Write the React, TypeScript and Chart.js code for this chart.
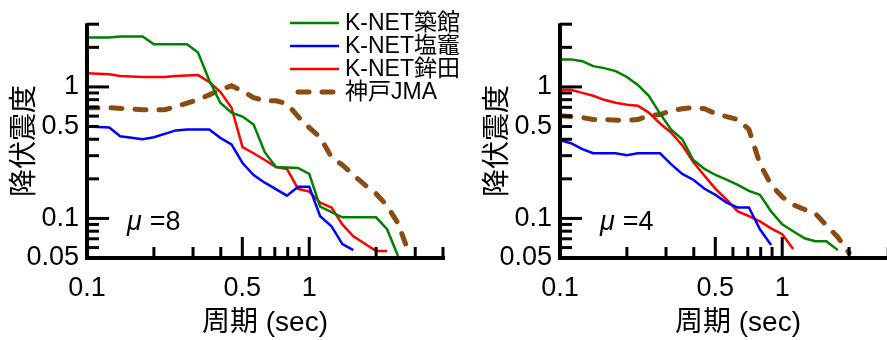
import { useEffect, useRef } from 'react';
import { Chart, registerables } from 'chart.js';

Chart.register(...registerables);

const FONT = "'Liberation Sans', Arial, 'Noto Sans CJK JP', sans-serif";

const SERIES_LABELS = ['K-NET築館', 'K-NET塩竈', 'K-NET鉾田', '神戸JMA'];
const SERIES_COLORS = ['#008000', '#0000ff', '#ff0000', '#8b4c14'];

// ---- μ = 8 panel ----
const tsukidateX8 = [0.1, 0.126, 0.141, 0.178, 0.2, 0.282, 0.316, 0.355, 0.398, 0.447, 0.501, 0.562, 0.631, 0.708, 0.891, 1.0, 1.12, 1.41, 2.0, 2.24, 2.51];
const tsukidateY8 = [2.38, 2.38, 2.42, 2.42, 2.11, 2.11, 1.83, 1.12, 0.758, 0.638, 0.595, 0.518, 0.319, 0.246, 0.242, 0.218, 0.123, 0.102, 0.102, 0.0827, 0.0518];
const shiogamaX8 = [0.1, 0.126, 0.141, 0.178, 0.2, 0.251, 0.282, 0.355, 0.398, 0.447, 0.501, 0.562, 0.631, 0.794, 0.891, 1.0, 1.12, 1.26, 1.41, 1.58];
const shiogamaY8 = [0.5, 0.492, 0.421, 0.4, 0.414, 0.467, 0.475, 0.475, 0.41, 0.366, 0.264, 0.214, 0.187, 0.149, 0.174, 0.174, 0.104, 0.087, 0.0638, 0.0574];
const hokotaX8 = [0.1, 0.126, 0.141, 0.178, 0.224, 0.251, 0.316, 0.355, 0.398, 0.447, 0.501, 0.562, 0.631, 0.708, 0.794, 0.891, 1.0, 1.12, 1.26, 1.41, 1.58, 2.0, 2.24];
const hokotaY8 = [1.27, 1.25, 1.21, 1.19, 1.19, 1.21, 1.23, 1.09, 0.917, 0.695, 0.348, 0.313, 0.278, 0.246, 0.238, 0.168, 0.16, 0.132, 0.121, 0.0901, 0.0732, 0.0565, 0.0565];
const kobeX8 = [0.1, 0.126, 0.178, 0.224, 0.251, 0.316, 0.355, 0.398, 0.447, 0.501, 0.562, 0.631, 0.708, 0.794, 0.891, 1.0, 1.12, 1.26, 1.41, 1.58, 1.78, 2.0, 2.24, 2.51, 2.82];
const kobeY8 = [0.695, 0.695, 0.672, 0.672, 0.707, 0.8, 0.87, 0.95, 1.02, 0.933, 0.83, 0.785, 0.785, 0.745, 0.595, 0.49, 0.414, 0.292, 0.255, 0.214, 0.18, 0.154, 0.125, 0.0917, 0.0537];

// ---- μ = 4 panel ----
const tsukidateX4 = [0.1, 0.112, 0.126, 0.141, 0.158, 0.178, 0.2, 0.224, 0.251, 0.282, 0.316, 0.355, 0.398, 0.447, 0.501, 0.562, 0.631, 0.708, 0.794, 0.891, 1.0, 1.12, 1.26, 1.41, 1.58, 1.78];
const tsukidateY4 = [1.62, 1.62, 1.57, 1.44, 1.39, 1.32, 1.19, 1.035, 0.856, 0.627, 0.475, 0.4, 0.278, 0.238, 0.214, 0.197, 0.18, 0.162, 0.151, 0.113, 0.0901, 0.0798, 0.0707, 0.0671, 0.0671, 0.0574];
const shiogamaX4 = [0.1, 0.112, 0.126, 0.141, 0.178, 0.2, 0.224, 0.282, 0.316, 0.355, 0.398, 0.447, 0.501, 0.562, 0.631, 0.708, 0.794, 0.891];
const shiogamaY4 = [0.393, 0.373, 0.336, 0.313, 0.313, 0.303, 0.313, 0.313, 0.259, 0.218, 0.197, 0.168, 0.151, 0.132, 0.121, 0.121, 0.0827, 0.0627];
const hokotaX4 = [0.1, 0.112, 0.126, 0.141, 0.158, 0.178, 0.2, 0.224, 0.251, 0.282, 0.316, 0.355, 0.398, 0.447, 0.501, 0.562, 0.631, 0.708, 0.794, 0.891, 1.0, 1.12];
const hokotaY4 = [0.95, 0.95, 0.901, 0.856, 0.798, 0.758, 0.732, 0.72, 0.638, 0.527, 0.451, 0.36, 0.268, 0.211, 0.168, 0.139, 0.113, 0.104, 0.0949, 0.0841, 0.0758, 0.0585];
const kobeX4 = [0.1, 0.112, 0.126, 0.141, 0.158, 0.2, 0.224, 0.251, 0.282, 0.316, 0.355, 0.398, 0.447, 0.501, 0.562, 0.631, 0.708, 0.794, 0.891, 1.0, 1.12, 1.26, 1.41, 1.58, 1.78, 2.0];
const kobeY4 = [0.605, 0.595, 0.585, 0.565, 0.565, 0.555, 0.565, 0.605, 0.616, 0.66, 0.683, 0.695, 0.683, 0.627, 0.595, 0.565, 0.475, 0.26, 0.18, 0.146, 0.127, 0.117, 0.109, 0.0886, 0.072, 0.0546];

// ---- axes ----
const X_MIN = 0.1;
const X_MAX = 4;
const Y_MIN = 0.05;
const Y_MAX = 3;
const X_LABELS = [0.1, 0.5, 1];
const Y_LABELS = [0.05, 0.1, 0.5, 1];
const X_MAJOR_TICKS = [0.5, 1];
const X_MINOR_TICKS = [0.2, 0.3, 0.4, 0.6, 0.7, 0.8, 0.9, 2, 3, 4];
const Y_MAJOR_TICKS = [0.1, 1];
const Y_MINOR_TICKS = [0.06, 0.07, 0.08, 0.09, 0.2, 0.3, 0.4, 0.5, 0.6, 0.7, 0.8, 0.9, 2, 3];

const X_TITLE = '周期 (sec)';
const Y_TITLE = '降伏震度';

const CANVAS_W = 473;
const CANVAS_H = 340;

const axesPlugin = {
  id: 'customAxes',
  afterDatasetsDraw(chart: any, _args: any, opts: any) {
    const { ctx, chartArea: ca, scales } = chart;
    const xs = scales.x;
    const ys = scales.y;
    ctx.save();
    ctx.strokeStyle = '#000';
    ctx.lineCap = 'butt';
    ctx.lineWidth = 3;
    const seg = (x1: number, y1: number, x2: number, y2: number) => {
      ctx.beginPath();
      ctx.moveTo(x1, y1);
      ctx.lineTo(x2, y2);
      ctx.stroke();
    };
    for (const v of X_MINOR_TICKS) {
      const p = xs.getPixelForValue(v);
      seg(p, ca.bottom, p, ca.bottom - 11);
    }
    for (const v of X_MAJOR_TICKS) {
      const p = xs.getPixelForValue(v);
      seg(p, ca.bottom, p, ca.bottom - 21);
    }
    for (const v of Y_MINOR_TICKS) {
      const p = ys.getPixelForValue(v);
      seg(ca.left, p, ca.left + 12, p);
    }
    for (const v of Y_MAJOR_TICKS) {
      const p = ys.getPixelForValue(v);
      seg(ca.left, p, ca.left + 22, p);
    }
    ctx.lineWidth = 4;
    ctx.beginPath();
    ctx.moveTo(ca.left, ca.top - 1);
    ctx.lineTo(ca.left, ca.bottom);
    ctx.lineTo(ca.right + 2, ca.bottom);
    ctx.stroke();

    // ductility label
    ctx.fillStyle = '#000';
    ctx.textBaseline = 'alphabetic';
    ctx.textAlign = 'left';
    ctx.font = `italic 27px ${FONT}`;
    const mx = ca.left + 40;
    const my = 230;
    ctx.fillText('μ', mx, my);
    const mw = ctx.measureText('μ').width;
    ctx.font = `27px ${FONT}`;
    ctx.fillText(opts.muText, mx + mw + 8, my);

    if (opts.legend) {
      const ds = chart.data.datasets;
      ctx.font = `23px ${FONT}`;
      ctx.textBaseline = 'middle';
      ds.forEach((d: any, i: number) => {
        const y = 23 + i * 23;
        ctx.save();
        ctx.strokeStyle = d.borderColor;
        ctx.lineWidth = d.borderWidth;
        ctx.lineCap = d.borderDash ? 'round' : 'butt';
        ctx.setLineDash(d.borderDash || []);
        ctx.beginPath();
        ctx.moveTo(d.borderDash ? 298 : 290, y);
        ctx.lineTo(339, y);
        ctx.stroke();
        ctx.restore();
        ctx.fillStyle = '#000';
        ctx.fillText(d.label, 345, y + 1);
      });
    }
    ctx.restore();
  },
};

function makeDataset(i: number, xsv: number[], ysv: number[]) {
  const dashed = i === 3;
  return {
    label: SERIES_LABELS[i],
    data: xsv.map((x, k) => ({ x, y: ysv[k] })),
    borderColor: SERIES_COLORS[i],
    backgroundColor: SERIES_COLORS[i],
    borderWidth: dashed ? 5 : 2.5,
    borderDash: dashed ? [11, 13] : undefined,
    borderCapStyle: dashed ? 'round' : 'butt',
    pointRadius: 0,
    tension: 0,
    fill: false,
  };
}

function makeConfig(series: [number[], number[]][], muText: string, legend: boolean): any {
  return {
    type: 'line',
    data: {
      datasets: series.map(([a, b], i) => makeDataset(i, a, b)),
    },
    options: {
      responsive: false,
      animation: false,
      events: [],
      layout: { padding: { top: 22, right: 30, left: 0, bottom: 0 } },
      plugins: {
        legend: { display: false },
        tooltip: { enabled: false },
        customAxes: { muText, legend },
      },
      scales: {
        x: {
          type: 'logarithmic',
          min: X_MIN,
          max: X_MAX,
          afterBuildTicks: (s: any) => {
            s.ticks = X_LABELS.map((v) => ({ value: v }));
          },
          afterFit: (s: any) => {
            s.height = 82;
          },
          grid: { display: false, drawTicks: false },
          border: { display: false },
          ticks: {
            color: '#000',
            font: { family: FONT, size: 27 },
            padding: 14,
            maxRotation: 0,
            autoSkip: false,
            callback: (v: any) => String(v),
          },
          title: {
            display: true,
            text: X_TITLE,
            color: '#000',
            font: { family: FONT, size: 28 },
            padding: { top: 0, bottom: 0 },
          },
        },
        y: {
          type: 'logarithmic',
          min: Y_MIN,
          max: Y_MAX,
          afterBuildTicks: (s: any) => {
            s.ticks = Y_LABELS.map((v) => ({ value: v }));
          },
          afterFit: (s: any) => {
            s.width = 87;
          },
          grid: { display: false, drawTicks: false },
          border: { display: false },
          ticks: {
            color: '#000',
            font: { family: FONT, size: 27 },
            padding: 8,
            autoSkip: false,
            callback: (v: any) => String(v),
          },
          title: {
            display: true,
            text: Y_TITLE,
            color: '#000',
            font: { family: FONT, size: 28 },
            padding: { top: 8, bottom: 0 },
          },
        },
      },
    },
    plugins: [axesPlugin],
  };
}

function Panel({ series, muText, legend, left }: { series: [number[], number[]][]; muText: string; legend: boolean; left: number }) {
  const ref = useRef<HTMLCanvasElement | null>(null);
  useEffect(() => {
    if (!ref.current) return;
    const chart = new Chart(ref.current, makeConfig(series, muText, legend));
    return () => chart.destroy();
  }, []);
  return (
    <div style={{ position: 'absolute', left, top: 0, width: CANVAS_W, height: CANVAS_H }}>
      <canvas ref={ref} width={CANVAS_W} height={CANVAS_H} style={{ display: 'block' }} />
    </div>
  );
}

export default function App() {
  const s8: [number[], number[]][] = [
    [tsukidateX8, tsukidateY8],
    [shiogamaX8, shiogamaY8],
    [hokotaX8, hokotaY8],
    [kobeX8, kobeY8],
  ];
  const s4: [number[], number[]][] = [
    [tsukidateX4, tsukidateY4],
    [shiogamaX4, shiogamaY4],
    [hokotaX4, hokotaY4],
    [kobeX4, kobeY4],
  ];
  return (
    <div style={{ position: 'fixed', left: 0, top: 0, width: 887, height: 340, overflow: 'hidden', background: '#fff' }}>
      <Panel series={s4} muText="=4" legend={false} left={473} />
      <Panel series={s8} muText="=8" legend={true} left={0} />
    </div>
  );
}
